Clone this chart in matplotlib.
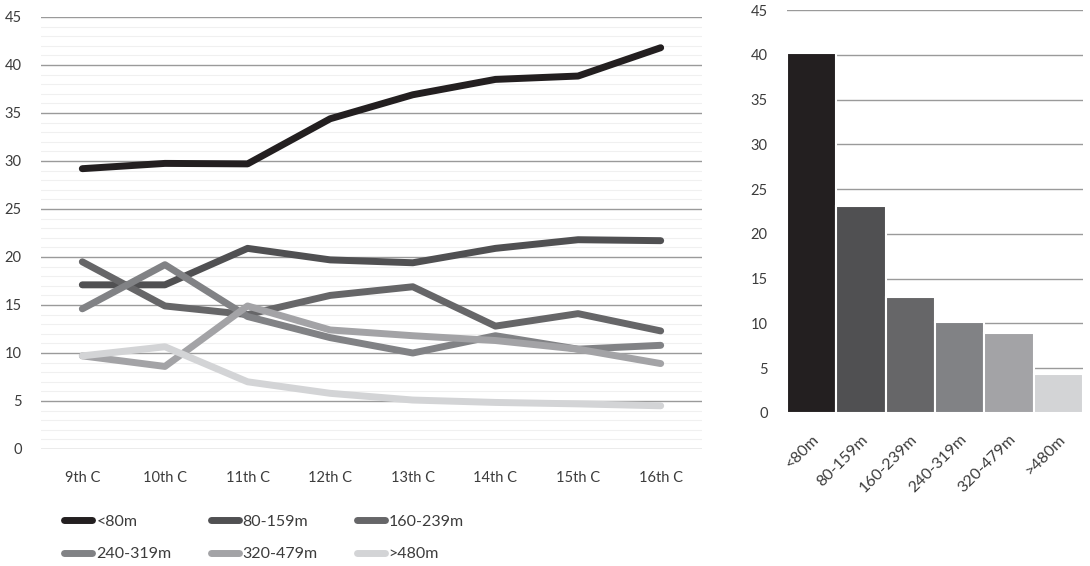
import matplotlib.pyplot as plt
from matplotlib.ticker import MultipleLocator
from matplotlib.transforms import ScaledTranslation

plt.rcParams['font.family'] = ['Lato', 'DejaVu Sans']

# centuries on the x axis of the line chart
centuries = ['9th C', '10th C', '11th C', '12th C', '13th C', '14th C', '15th C', '16th C']
bands = ['<80m', '80-159m', '160-239m', '240-319m', '320-479m', '>480m']
colors = ['#231f20', '#505052', '#666668', '#818285', '#a3a3a6', '#d3d4d6']

# values per elevation band
lt80 = [29.2, 29.75, 29.7, 34.4, 36.9, 38.5, 38.85, 41.8]
b80_159 = [17.1, 17.1, 20.9, 19.7, 19.4, 20.9, 21.8, 21.7]
b160_239 = [19.5, 14.9, 14.0, 16.0, 16.9, 12.8, 14.1, 12.3]
b240_319 = [14.6, 19.2, 13.8, 11.6, 10.0, 11.8, 10.4, 10.8]
b320_479 = [9.7, 8.6, 14.9, 12.4, 11.8, 11.3, 10.4, 8.9]
gt480 = [9.7, 10.65, 7.0, 5.8, 5.1, 4.85, 4.7, 4.5]
series = [lt80, b80_159, b160_239, b240_319, b320_479, gt480]

# overall share per band (bar chart)
totals = [40.15, 23.1, 12.9, 10.15, 8.9, 4.4]

text_col = '#3c3c3c'
fig = plt.figure(figsize=(10.9, 5.66), dpi=100)

# left: line chart
ax = fig.add_axes([41 / 1090, 1 - 449 / 566, 661 / 1090, 432 / 566])
x = list(range(len(centuries)))
handles = []
for vals, col, name in zip(series, colors, bands):
    h, = ax.plot(x, vals, color=col, lw=5, solid_capstyle='round',
                 solid_joinstyle='round', label=name, zorder=3)
    handles.append(h)
ax.set_xlim(-0.5, len(centuries) - 0.5)
ax.set_ylim(0, 45)
ax.yaxis.set_major_locator(MultipleLocator(5))
ax.yaxis.set_minor_locator(MultipleLocator(1))
ax.grid(axis='y', which='major', color='#9a9a9a', lw=1)
ax.grid(axis='y', which='minor', color='#f0f0f0', lw=0.8)
ax.set_axisbelow(True)
ax.set_xticks(x)
ax.set_xticklabels(centuries)
for s in ax.spines.values():
    s.set_visible(False)
ax.tick_params(which='both', length=0, labelsize=10.5, colors=text_col, pad=16)
ax.tick_params(axis='y', pad=14)

# legend filled row by row like the original
order = [0, 3, 1, 4, 2, 5]
fig.legend([handles[i] for i in order], [bands[i] for i in order],
           loc='upper left', bbox_to_anchor=(50 / 1090, 1 - 500 / 566),
           ncol=3, frameon=False, fontsize=11.5, handlelength=1.75,
           handletextpad=0.25, columnspacing=2.45, labelspacing=1.15,
           labelcolor=text_col)

# right: bar chart
ax2 = fig.add_axes([787 / 1090, 1 - 413 / 566, 296 / 1090, 403 / 566])
bx = list(range(len(bands)))
ax2.bar(bx, totals, width=1.0, color=colors, edgecolor='white', lw=1.5, zorder=3)
ax2.set_xlim(-0.5, len(bands) - 0.5)
ax2.set_ylim(0, 45)
ax2.yaxis.set_major_locator(MultipleLocator(5))
ax2.grid(axis='y', color='#9a9a9a', lw=1)
ax2.set_axisbelow(True)
ax2.set_xticks(bx)
ax2.set_xticklabels(bands, rotation=45, ha='right', rotation_mode='anchor')
shift = ScaledTranslation(8 / 100, 0, fig.dpi_scale_trans)
for lab in ax2.get_xticklabels():
    lab.set_transform(lab.get_transform() + shift)
for s in ax2.spines.values():
    s.set_visible(False)
ax2.tick_params(length=0, labelsize=10.5, colors=text_col)
ax2.tick_params(axis='x', labelsize=11.5, pad=14)
ax2.tick_params(axis='y', pad=14)

fig.savefig('out.png', dpi=100)
